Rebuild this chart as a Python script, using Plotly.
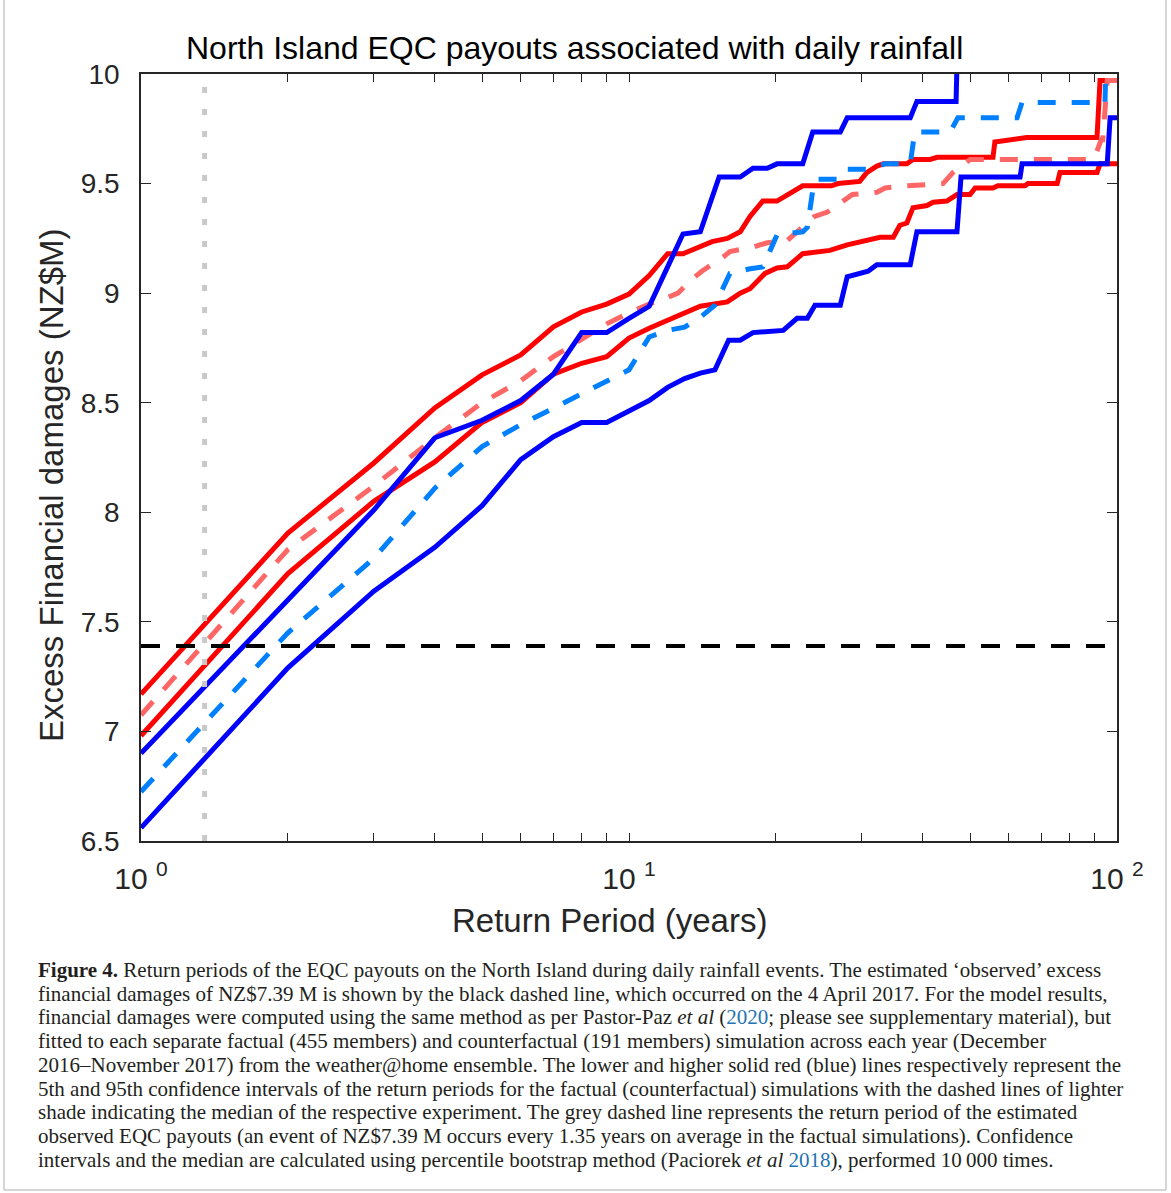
import plotly.graph_objects as go

# ---------------- data ----------------
# Factual (red) 95th percentile
rp_red_hi = [1, 2, 3, 4, 5, 6, 7, 8, 9, 10, 11, 12, 12.9, 14.8, 15.9, 16.9, 17.7, 18.8, 20.1, 21.1,
             22.7, 26.0, 26.8, 29.7, 30.7, 32.2, 33.2, 37.1, 38.2, 41.4, 42.8, 55.7, 56.2, 65.4, 91.0, 92.3, 100]
dmg_red_hi = [7.17, 7.905, 8.225, 8.476, 8.627, 8.718, 8.846, 8.914, 8.95, 8.996, 9.08, 9.18, 9.18, 9.235, 9.25,
              9.28, 9.35, 9.42, 9.42, 9.45, 9.49, 9.49, 9.50, 9.51, 9.55, 9.58, 9.59, 9.59, 9.61, 9.61, 9.62,
              9.62, 9.69, 9.71, 9.71, 9.97, 9.97]

# Factual (red) 5th percentile
rp_red_lo = [1, 2, 3, 4, 5, 6, 7, 8, 9, 10, 11, 12, 14, 15.9, 16.9, 17.7, 19.0, 20.1, 21.1, 22.7, 25.8,
             28.0, 29.3, 32.7, 34.8, 35.9, 37.1, 38.2, 40.8, 42.0, 44.8, 47.0, 50.0, 51.2, 55.7, 57.0, 64.8,
             65.7, 75.4, 76.4, 91.0, 92.3, 100]
dmg_red_lo = [6.98, 7.72, 8.05, 8.23, 8.41, 8.50, 8.63, 8.68, 8.71, 8.795, 8.84, 8.875, 8.94, 8.96, 9.00,
              9.02, 9.09, 9.115, 9.12, 9.18, 9.195, 9.22, 9.23, 9.255, 9.255, 9.31, 9.32, 9.39, 9.40, 9.415,
              9.42, 9.45, 9.45, 9.48, 9.48, 9.49, 9.49, 9.50, 9.50, 9.55, 9.55, 9.59, 9.59]

# Factual (red) median
rp_red_med = [1, 2, 3, 4, 5, 6, 7, 8, 9, 10, 11, 12, 12.6, 13.4, 14.1, 15.6, 16.1, 17.95, 19.2, 21.1,
              22.4, 24.0, 25.5, 27.3, 28.7, 32.2, 33.5, 37.1, 44.0, 46.1, 50.0, 88.1, 90.0, 92.8, 93.5,
              95.5, 100]
dmg_red_med = [7.075, 7.83, 8.12, 8.34, 8.50, 8.60, 8.71, 8.79, 8.86, 8.91, 8.95, 8.98, 9.00, 9.06, 9.10,
               9.165, 9.19, 9.21, 9.23, 9.24, 9.29, 9.35, 9.37, 9.42, 9.45, 9.46, 9.48, 9.49, 9.50, 9.55,
               9.61, 9.61, 9.62, 9.70, 9.70, 9.97, 9.97]

# Counterfactual (blue) 95th percentile
rp_blue_hi = [1, 2, 3, 4, 5, 6, 7, 8, 9, 10, 11, 12, 12.9, 14.0, 15.3, 16.9, 17.95, 19.2, 20.1, 22.7,
              23.8, 27.1, 28.0, 37.7, 38.9, 46.8, 47.3]
dmg_blue_hi = [6.90, 7.60, 8.01, 8.34, 8.42, 8.51, 8.63, 8.82, 8.82, 8.885, 8.94, 9.12, 9.27, 9.28, 9.53,
               9.53, 9.57, 9.57, 9.59, 9.59, 9.735, 9.735, 9.80, 9.80, 9.875, 9.875, 10.3]

# Counterfactual (blue) 5th percentile
rp_blue_lo = [1, 2, 3, 4, 5, 6, 7, 8, 9, 10, 11, 12, 13, 14, 15, 16, 16.9, 17.95, 20.7, 22.1, 23.2,
              24.05, 27.1, 28.0, 30.9, 32.2, 37.7, 38.9, 47.0, 47.9, 63.3, 63.9, 95.5, 96.8, 100]
dmg_blue_lo = [6.56, 7.29, 7.64, 7.84, 8.03, 8.24, 8.345, 8.41, 8.41, 8.46, 8.51, 8.57, 8.61, 8.635, 8.65,
               8.785, 8.785, 8.82, 8.83, 8.885, 8.885, 8.945, 8.945, 9.075, 9.10, 9.13, 9.13, 9.28, 9.28,
               9.53, 9.53, 9.59, 9.59, 9.80, 9.80]

# Counterfactual (blue) median
rp_blue_med = [1, 2, 3, 4, 5, 6, 7, 8, 9, 10, 11, 12, 13, 14, 15, 15.6, 16.1, 17.6, 18.8, 19.6, 20.1,
               22.7, 23.2, 23.8, 24.2, 26.7, 27.7, 31.0, 33.5, 37.7, 38.5, 45.5, 47.2, 62.4, 63.9, 94.5,
               95.5]
dmg_blue_med = [6.725, 7.45, 7.79, 8.11, 8.30, 8.40, 8.475, 8.54, 8.60, 8.65, 8.80, 8.83, 8.845, 8.89,
                8.945, 9.02, 9.09, 9.11, 9.12, 9.21, 9.265, 9.28, 9.30, 9.47, 9.52, 9.52, 9.565, 9.565,
                9.59, 9.59, 9.735, 9.735, 9.80, 9.80, 9.87, 9.87, 10.3]

observed_damage = 7.39      # NZ$M
observed_return_period = 1.35  # years

y_ticks = [6.5, 7, 7.5, 8, 8.5, 9, 9.5, 10]
x_major = [1, 10, 100]
x_major_text = ["10 <sup>0</sup>", "10 <sup>1</sup>", "10 <sup>2</sup>"]
x_minor = [v * d for d in (1, 10) for v in range(2, 10)]

title_text = "North Island EQC payouts associated with daily rainfall"
x_title = "Return Period (years)"
y_title = "Excess Financial damages (NZ$M)"

caption_lines = [
    "<b>Figure 4.</b> Return periods of the EQC payouts on the North Island during daily rainfall events. The estimated \u2018observed\u2019 excess",
    "financial damages of NZ$7.39 M is shown by the black dashed line, which occurred on the 4 April 2017. For the model results,",
    "financial damages were computed using the same method as per Pastor-Paz <i>et al</i> (<span style='color:#1f74b4'>2020</span>; please see supplementary material), but",
    "fitted to each separate factual (455 members) and counterfactual (191 members) simulation across each year (December",
    "2016\u2013November 2017) from the weather@home ensemble. The lower and higher solid red (blue) lines respectively represent the",
    "5th and 95th confidence intervals of the return periods for the factual (counterfactual) simulations with the dashed lines of lighter",
    "shade indicating the median of the respective experiment. The grey dashed line represents the return period of the estimated",
    "observed EQC payouts (an event of NZ$7.39 M occurs every 1.35 years on average in the factual simulations). Confidence",
    "intervals and the median are calculated using percentile bootstrap method (Paciorek <i>et al</i> <span style='color:#1f74b4'>2018</span>), performed 10\u2009000 times.",
]

# ---------------- figure ----------------
W, H = 1171, 1193
L, R, T, B = 141, 54, 74, 352
PW, PH = W - L - R, H - T - B

def px_x(p):  # figure pixel -> paper x
    return (p - L) / PW

def px_y(p):  # figure pixel -> paper y
    return (H - B - p) / PH

RED, LRED, BLUE, LBLUE = "#FF0000", "#FF6666", "#0000FF", "#0080FF"
DASH = "18px,16px"
LW = 5

fig = go.Figure()

def add_line(x, y, color, dash=None):
    fig.add_trace(go.Scatter(x=x, y=y, mode="lines",
                             line=dict(color=color, width=LW, dash=dash or "solid"),
                             hoverinfo="skip", showlegend=False))

add_line(rp_red_lo, dmg_red_lo, RED)
add_line(rp_red_hi, dmg_red_hi, RED)
add_line(rp_red_med, dmg_red_med, LRED, DASH)
add_line(rp_blue_lo, dmg_blue_lo, BLUE)
add_line(rp_blue_hi, dmg_blue_hi, BLUE)
add_line(rp_blue_med, dmg_blue_med, LBLUE, DASH)

# observed damage (black dashed horizontal)
fig.add_trace(go.Scatter(x=[1, 100], y=[observed_damage, observed_damage], mode="lines",
                         line=dict(color="black", width=4, dash="19px,16px"),
                         hoverinfo="skip", showlegend=False))
# observed return period (grey dotted vertical)
fig.add_trace(go.Scatter(x=[observed_return_period, observed_return_period], y=[6.5, 10], mode="lines",
                         line=dict(color="#C8C8C8", width=5, dash="6px,16px"),
                         hoverinfo="skip", showlegend=False))

AX = "#262626"
FONT = "Liberation Sans, Arial, Helvetica, sans-serif"

fig.update_xaxes(type="log", range=[0, 2], tickvals=x_major, ticktext=x_major_text,
                 ticks="inside", ticklen=8, tickwidth=1, tickcolor=AX,
                 minor=dict(tickvals=x_minor, ticks="inside", ticklen=8, tickwidth=1,
                            tickcolor=AX, showgrid=False),
                 showline=True, linecolor=AX, linewidth=1.5, mirror="ticks",
                 showgrid=False, zeroline=False,
                 tickfont=dict(family=FONT, size=30, color=AX), ticklabelstandoff=10)
fig.update_yaxes(range=[6.5, 10], tickvals=y_ticks, ticktext=[f"{v:g}" for v in y_ticks],
                 ticks="inside", ticklen=10, tickwidth=1, tickcolor=AX,
                 showline=True, linecolor=AX, linewidth=1.5, mirror="ticks",
                 showgrid=False, zeroline=False,
                 tickfont=dict(family=FONT, size=28, color=AX), ticklabelstandoff=14)

annotations = [
    dict(text=title_text, x=px_x(574), y=px_y(48), xref="paper", yref="paper",
         showarrow=False, xanchor="center", yanchor="middle",
         font=dict(family=FONT, size=32, color="black")),
    dict(text=x_title, x=px_x(609), y=px_y(921), xref="paper", yref="paper",
         showarrow=False, xanchor="center", yanchor="middle",
         font=dict(family=FONT, size=33, color=AX)),
    dict(text=y_title, x=px_x(52), y=px_y(485), xref="paper", yref="paper",
         showarrow=False, xanchor="center", yanchor="middle", textangle=-90,
         font=dict(family=FONT, size=33, color=AX)),
]
cap_y0, cap_dy = 970, 23.7
for i, line in enumerate(caption_lines):
    annotations.append(dict(text=line, x=px_x(36), y=px_y(cap_y0 + i * cap_dy), xref="paper", yref="paper",
                            showarrow=False, xanchor="left", yanchor="middle", align="left",
                            font=dict(family="Liberation Serif, Times New Roman, serif", size=21,
                                      color="#231f20")))

# thin frame around the figure (left, right, bottom)
frame = dict(color="#C8C8C8", width=1.5)
shapes = [
    dict(type="line", xref="paper", yref="paper", x0=px_x(4), x1=px_x(4), y0=px_y(0), y1=px_y(1190), line=frame),
    dict(type="line", xref="paper", yref="paper", x0=px_x(1166), x1=px_x(1166), y0=px_y(0), y1=px_y(1190), line=frame),
    dict(type="line", xref="paper", yref="paper", x0=px_x(4), x1=px_x(1166), y0=px_y(1190), y1=px_y(1190), line=frame),
]

fig.update_layout(width=W, height=H, autosize=False,
                  margin=dict(l=L, r=R, t=T, b=B, pad=0),
                  paper_bgcolor="white", plot_bgcolor="white",
                  annotations=annotations, shapes=shapes, showlegend=False)

fig.write_html("out.html", config={"displayModeBar": False},
               post_script="document.body.style.margin='0';document.body.style.overflow='hidden';")
